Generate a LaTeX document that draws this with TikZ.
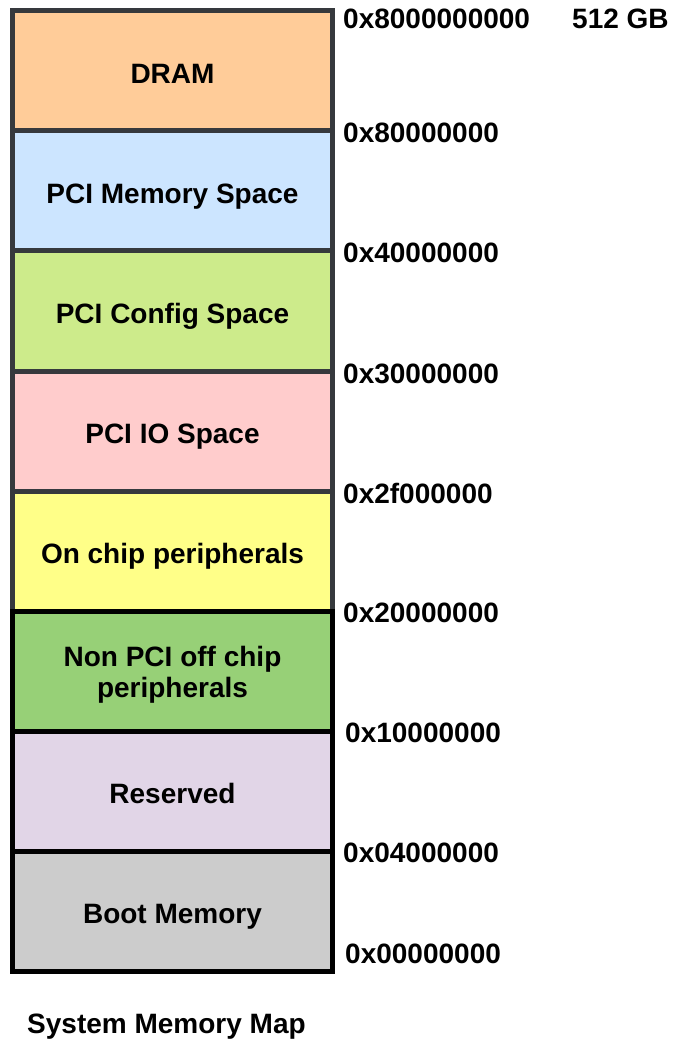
\documentclass[tikz,border=0pt]{standalone}
\usepackage{fontspec}
\setmainfont{Liberation Sans}
\definecolor{cDram}{HTML}{FFCC99}
\definecolor{cPciMem}{HTML}{CCE5FF}
\definecolor{cPciCfg}{HTML}{CDEB8B}
\definecolor{cPciIo}{HTML}{FFCCCC}
\definecolor{cOnChip}{HTML}{FFFF88}
\definecolor{cNonPci}{HTML}{97D077}
\definecolor{cResv}{HTML}{E1D5E7}
\definecolor{cBoot}{HTML}{CCCCCC}
\definecolor{darkline}{HTML}{36393D}
\newcommand\lowline[1]{\raisebox{-4pt}[\height][\depth]{#1}}
\newcommand\oneline[1]{\raisebox{-2pt}[0.72em][0pt]{#1}}
\tikzset{
  region/.style={draw=darkline, line width=5pt, minimum width=320pt, minimum height=120pt,
    inner sep=0pt, font=\bfseries\fontsize{28}{31}\selectfont},
  blackregion/.style={region, draw=black},
  addr/.style={anchor=base west, inner sep=0pt, font=\bfseries\fontsize{28}{31}\selectfont},
}
\begin{document}
\begin{tikzpicture}[x=1pt,y=-1pt]
\useasboundingbox (0,0) rectangle (673,1040);
\node[region, fill=cDram] (dram) at (172.5,71) {\oneline{DRAM}};
\node[region, fill=cPciMem] (pcimem) at (172.5,191) {\oneline{PCI Memory Space}};
\node[region, fill=cPciCfg] (pcicfg) at (172.5,311) {\oneline{PCI Config Space}};
\node[region, fill=cPciIo] (pciio) at (172.5,431) {\oneline{PCI IO Space}};
\node[region, fill=cOnChip] (onchip) at (172.5,551) {\oneline{On chip peripherals}};
\node[blackregion, align=center, fill=cNonPci] (nonpci) at (172.5,671) {\lowline{Non PCI off chip}\\\lowline{peripherals}};
\node[blackregion, fill=cResv] (resv) at (172.5,791) {\oneline{Reserved}};
\node[blackregion, fill=cBoot] (boot) at (172.5,911) {\oneline{Boot Memory}};

\node[addr] (a0) at (343,29) {0x8000000000};
\node[addr] (gb) at (572,29) {512 GB};
\node[addr] (a1) at (343,143) {0x80000000};
\node[addr] (a2) at (343,263) {0x40000000};
\node[addr] (a3) at (343,383) {0x30000000};
\node[addr] (a4) at (343,503) {0x2f000000};
\node[addr] (a5) at (343,622) {0x20000000};
\node[addr] (a6) at (345,742) {0x10000000};
\node[addr] (a7) at (343,862) {0x04000000};
\node[addr] (a8) at (345,963) {0x00000000};

\node[addr] (title) at (27,1033) {System Memory Map};
\end{tikzpicture}
\end{document}
